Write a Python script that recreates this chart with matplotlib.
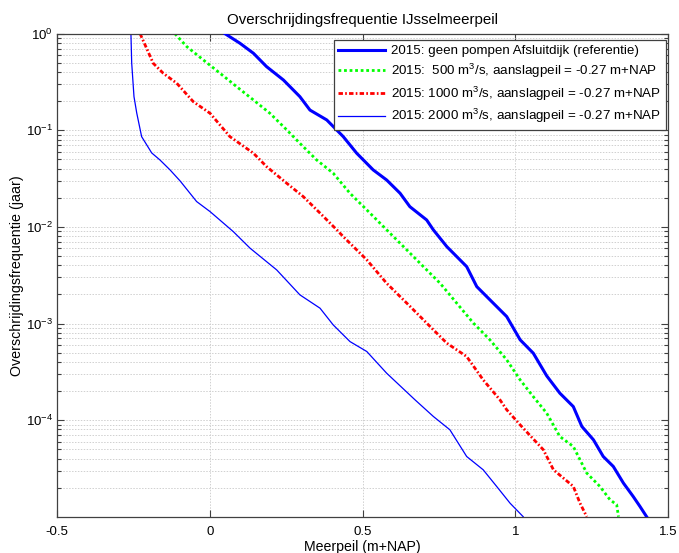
import matplotlib
matplotlib.use("Agg")
import matplotlib.pyplot as plt
from matplotlib.ticker import LogLocator, FixedLocator, NullFormatter

plt.rcParams['font.family'] = ['Liberation Sans', 'DejaVu Sans']
plt.rcParams['mathtext.default'] = 'regular'

# Reference: 2015 geen pompen Afsluitdijk
x_ref = [0.050, 0.099, 0.143, 0.186, 0.241, 0.295, 0.328, 0.383, 0.437, 0.481, 0.535, 0.579,
         0.623, 0.655, 0.710, 0.732, 0.776, 0.841, 0.874, 0.917, 0.972, 1.016, 1.059, 1.103,
         1.146, 1.190, 1.218, 1.256, 1.288, 1.321, 1.354, 1.386, 1.408, 1.430]
y_ref = [1.0, 0.796, 0.627, 0.456, 0.332, 0.223, 0.162, 0.128, 0.0860, 0.0579, 0.0389, 0.0306,
         0.0223, 0.0162, 0.0118, 0.00931, 0.00625, 0.00388, 0.00241, 0.00176, 0.00118, 6.78e-4,
         4.93e-4, 2.87e-4, 1.90e-4, 1.38e-4, 8.59e-5, 6.25e-5, 4.20e-5, 3.31e-5, 2.23e-5,
         1.62e-5, 1.28e-5, 1.0e-5]

# 500 m3/s
x_500 = [-0.114, -0.075, -0.021, 0.034, 0.088, 0.143, 0.197, 0.252, 0.295, 0.350, 0.404, 0.459,
         0.514, 0.590, 0.645, 0.699, 0.754, 0.808, 0.863, 0.917, 0.972, 1.016, 1.059, 1.103,
         1.146, 1.190, 1.234, 1.277, 1.310, 1.332, 1.338]
y_500 = [1.0, 0.734, 0.535, 0.389, 0.283, 0.206, 0.150, 0.101, 0.0734, 0.0493, 0.0360, 0.0223,
         0.0150, 0.00861, 0.00578, 0.00389, 0.00261, 0.00163, 0.00101, 6.78e-4, 4.21e-4,
         2.61e-4, 1.75e-4, 1.18e-4, 6.76e-5, 5.33e-5, 2.83e-5, 2.06e-5, 1.50e-5, 1.33e-5, 1.0e-5]

# 1000 m3/s
x_1000 = [-0.228, -0.185, -0.152, -0.108, -0.054, 0.001, 0.066, 0.143, 0.186, 0.252, 0.306,
          0.361, 0.416, 0.437, 0.514, 0.579, 0.656, 0.710, 0.776, 0.841, 0.895, 0.950, 0.972,
          1.016, 1.092, 1.125, 1.190, 1.212, 1.234]
y_1000 = [1.0, 0.494, 0.389, 0.307, 0.198, 0.150, 0.0860, 0.0579, 0.0421, 0.0283, 0.0206,
          0.0139, 0.00931, 0.00794, 0.00456, 0.00261, 0.00150, 0.00101, 6.26e-4, 4.55e-4,
          2.61e-4, 1.62e-4, 1.28e-4, 8.93e-5, 4.93e-5, 3.06e-5, 2.06e-5, 1.38e-5, 1.0e-5]

# 2000 m3/s
x_2000 = [-0.258, -0.2555, -0.248, -0.239, -0.223, -0.190, -0.163, -0.130, -0.097, -0.043,
          0.001, 0.077, 0.132, 0.219, 0.295, 0.361, 0.404, 0.459, 0.514, 0.579, 0.672, 0.732,
          0.786, 0.841, 0.895, 0.939, 0.983, 1.026]
y_2000 = [1.0, 0.497, 0.223, 0.151, 0.0860, 0.0583, 0.0493, 0.0389, 0.0299, 0.0183, 0.0144,
          0.00894, 0.00602, 0.00359, 0.00198, 0.00144, 9.68e-4, 6.50e-4, 5.13e-4, 3.06e-4,
          1.62e-4, 1.09e-4, 7.94e-5, 4.20e-5, 3.06e-5, 2.06e-5, 1.38e-5, 1.0e-5]

labels = ['2015: geen pompen Afsluitdijk (referentie)',
          '2015:  500 m$^3$/s, aanslagpeil = -0.27 m+NAP',
          '2015: 1000 m$^3$/s, aanslagpeil = -0.27 m+NAP',
          '2015: 2000 m$^3$/s, aanslagpeil = -0.27 m+NAP']

x_ticks = [-0.5, 0, 0.5, 1, 1.5]
x_ticklabels = ['-0.5', '0', '0.5', '1', '1.5']

fig = plt.figure(figsize=(6.79, 5.53), dpi=100)
ax = fig.add_axes([57/679, 1-516.7/553, (668-57)/679, (516.7-33.7)/553])

ax.plot(x_ref, y_ref, color=(0, 0, 1), lw=2.2, label=labels[0], zorder=3)
ax.plot(x_500, y_500, color=(0, 1, 0), lw=2.0, linestyle=(0, (1, 1)), label=labels[1], zorder=2.5)
ax.plot(x_1000, y_1000, color=(1, 0, 0), lw=2.0, linestyle=(0, (1.6, 0.8, 0.6, 0.8)),
        label=labels[2], zorder=2.5)
ax.plot(x_2000, y_2000, color=(0, 0, 1), lw=0.9, label=labels[3], zorder=2.5)

ax.set_yscale('log')
ax.set_xlim(-0.5, 1.5)
ax.set_ylim(1e-5, 1)
ax.set_xticks(x_ticks)
ax.set_xticklabels(x_ticklabels)
ax.yaxis.set_major_locator(FixedLocator([1e-4, 1e-3, 1e-2, 1e-1, 1e0]))
ax.yaxis.set_minor_locator(LogLocator(base=10, subs=range(2, 10), numticks=20))
ax.yaxis.set_minor_formatter(NullFormatter())

ax.grid(True, which='major', axis='both', linestyle=(0, (1.5, 1.5)), color='#d0d0d0', lw=0.7)
ax.grid(True, which='minor', axis='y', linestyle=(0, (1.5, 1.5)), color='#d0d0d0', lw=0.7)
ax.set_axisbelow(True)

ax.tick_params(which='both', direction='in', top=True, right=True, labelsize=9.5,
               color='#404040')
ax.tick_params(which='major', length=5, width=0.8)
ax.tick_params(which='minor', length=3, width=0.8)
ax.tick_params(axis='x', pad=7)
ax.tick_params(axis='y', pad=3)
for s in ax.spines.values():
    s.set_color('#404040')
    s.set_linewidth(0.9)

ax.set_title('Overschrijdingsfrequentie IJsselmeerpeil', fontsize=10.8, pad=7)
ax.set_xlabel('Meerpeil (m+NAP)', fontsize=10.2, labelpad=1)
ax.set_ylabel('Overschrijdingsfrequentie (jaar)', fontsize=10.3, labelpad=1)

leg = ax.legend(loc='upper right', bbox_to_anchor=(0.996, 0.986), fontsize=9.6,
                handlelength=3.5, handletextpad=0.45, labelspacing=0.33,
                borderpad=0.35, borderaxespad=0.0, fancybox=False, framealpha=1,
                edgecolor='#404040')
leg.get_frame().set_linewidth(0.9)
leg.set_zorder(10)

fig.savefig('out.png', dpi=100)
